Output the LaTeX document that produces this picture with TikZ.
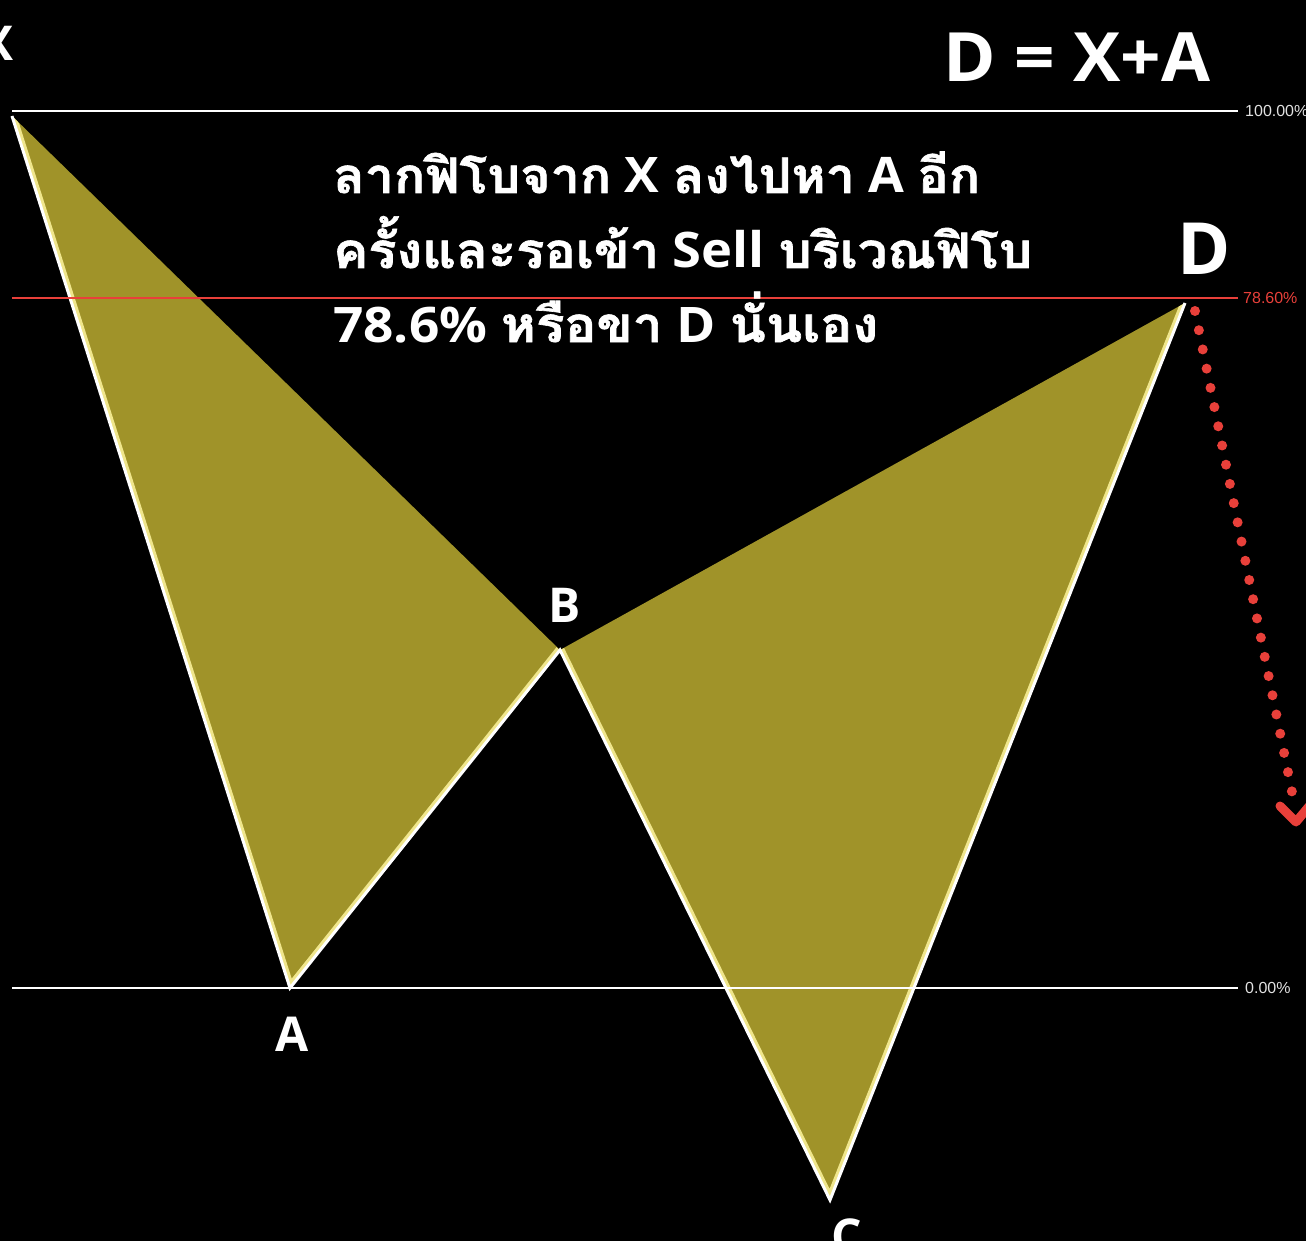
\documentclass[tikz,border=0pt]{standalone}
\usepackage{fontspec}
\usepackage{graphicx}
\setmainfont{Open Sans}
\newfontfamily\thaifont[Script=Thai, BoldFeatures={FakeBold=1.3}]{Loma}
\newfontfamily\pctfont{Liberation Sans}
\definecolor{fillol}{RGB}{160,147,41}
\definecolor{glow}{RGB}{240,230,140}
\definecolor{redl}{RGB}{232,64,58}
\definecolor{pctgrey}{RGB}{225,225,225}
\begin{document}
\begin{tikzpicture}[x=1pt,y=-1pt,
  ptlabel/.style={text=white, inner sep=0pt, font=\fontsize{48}{56}\selectfont\bfseries},
  bodytext/.style={text=white, inner sep=0pt, anchor=base west, font=\fontsize{49}{58}\selectfont\bfseries},
  pct/.style={inner sep=0pt, anchor=west, font=\pctfont\fontsize{16}{19}\selectfont},
  level/.style={line width=2.5pt}]
\fill[black] (0,0) rectangle (1306,1241);
\useasboundingbox (0,0) rectangle (1306,1241);
% pattern points
\coordinate (X) at (12,116);
\coordinate (A) at (290,988);
\coordinate (B) at (560,650);
\coordinate (C) at (830,1200);
\coordinate (D) at (1185,303);
% level line ends
\coordinate (L100a) at (12,111);  \coordinate (L100b) at (1238,111);
\coordinate (L786a) at (12,298);  \coordinate (L786b) at (1238,298);
\coordinate (L0a) at (12,988);    \coordinate (L0b) at (1238,988);
% fills
\fill[fillol] (X) -- (A) -- (B) -- cycle;
\fill[fillol] (B) -- (C) -- (D) -- cycle;
\begin{scope}
  \clip (X) -- (A) -- (B) -- cycle;
  \draw[glow, line width=9pt] (X) -- (A) -- (B);
\end{scope}
\begin{scope}
  \clip (B) -- (C) -- (D) -- cycle;
  \draw[glow, line width=9pt] (B) -- (C) -- (D);
\end{scope}
\draw[white, line width=3pt] (X) -- (A) -- (B) -- (C) -- (D);
% level lines
\draw[level, white] (L100a) -- (L100b);
\draw[level, redl] (L786a) -- (L786b);
\draw[level, white] (L0a) -- (L0b);
\node[pct, text=pctgrey] (p100) at (1245,111) {100.00\%};
\node[pct, text=redl] (p786) at (1243,298) {78.60\%};
\node[pct, text=pctgrey] (p0) at (1245,988) {0.00\%};
% labels
\node[ptlabel] (lX) at (-2,43) {X};
\node[ptlabel] (lA) at (292,1034) {A};
\node[ptlabel] (lB) at (565,605) {B};
\node[ptlabel] (lC) at (847,1236) {C};
\node[ptlabel, font=\fontsize{72}{80}\selectfont\bfseries] (lD) at (1204,249) {D};
\node[bodytext, font=\fontsize{68}{76}\selectfont\bfseries] (title) at (943,82) {\resizebox{267pt}{\height}{D = X+A}};
% body text
\node[bodytext] (t1) at (333,193) {\resizebox{647pt}{\height}{{\thaifont\bfseries ลากฟิโบจาก} X {\thaifont\bfseries ลงไปหา} A {\thaifont\bfseries อีก}}};
\node[bodytext] (t2) at (333,268) {\resizebox{699pt}{\height}{{\thaifont\bfseries ครั้งและรอเข้า} Sell {\thaifont\bfseries บริเวณฟิโบ}}};
\node[bodytext] (t3) at (333,342) {\resizebox{545pt}{\height}{78.6\% {\thaifont\bfseries หรือขา} D {\thaifont\bfseries นั่นเอง}}};
% red dotted arrow
\coordinate (arrS) at (1195,311);
\coordinate (arrE) at (1294,802);
\coordinate (chevL) at (1280,806);
\coordinate (chevV) at (1296,822);
\coordinate (chevR) at (1316,798);
\draw[redl, line width=10pt, line cap=round, dash pattern=on 0pt off 19.6pt] (arrS) -- (arrE);
\draw[redl, line width=9pt, line cap=round, line join=round] (chevL) -- (chevV) -- (chevR);
\end{tikzpicture}
\end{document}
